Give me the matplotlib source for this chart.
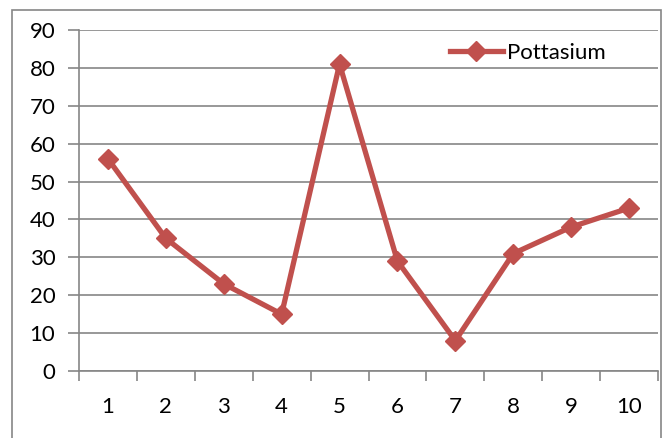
import numpy as np
import matplotlib.pyplot as plt
from matplotlib.patches import Rectangle

# sample numbers and potassium readings
samples = [1, 2, 3, 4, 5, 6, 7, 8, 9, 10]
pottasium = [56, 35, 23, 15, 81, 29, 8, 31, 38, 43]
yticks = [0, 10, 20, 30, 40, 50, 60, 70, 80, 90]

plt.rcParams['font.family'] = ['Lato', 'DejaVu Sans']
grey = '#868686'

fig = plt.figure(figsize=(6.67, 4.38), dpi=100)
ax = fig.add_axes([79/667, 1 - 371/438, 579/667, 341/438])

# chart border
fig.patches.append(Rectangle((12/667, -0.1), 649/667, 1.1 - 10/438,
                             transform=fig.transFigure, fill=False,
                             edgecolor=grey, linewidth=1.2))

ax.plot(samples, pottasium, color='#C0504D', linewidth=3.8, marker='D',
        markersize=10, label='Pottasium')

ax.set_xlim(0.5, 10.5)
ax.set_ylim(0, 90)
ax.set_yticks(yticks)
ax.set_xticks(samples)
ax.set_xticks(np.arange(0.5, 11, 1), minor=True)
ax.tick_params(axis='x', which='major', length=0, pad=19, labelsize=16)
ax.tick_params(axis='x', which='minor', length=7, color=grey, width=1.2)
ax.tick_params(axis='y', length=8, color=grey, width=1.2, pad=9, labelsize=16)
ax.grid(axis='y', color=grey, linewidth=1.2)
ax.set_axisbelow(True)

for side in ['top', 'right']:
    ax.spines[side].set_visible(False)
for side in ['left', 'bottom']:
    ax.spines[side].set_color(grey)
    ax.spines[side].set_linewidth(1.2)

ax.legend(loc='upper right', bbox_to_anchor=(0.945, 1.02), frameon=False,
          fontsize=16, handlelength=2.4, handletextpad=0.2)

plt.savefig('out.png')
